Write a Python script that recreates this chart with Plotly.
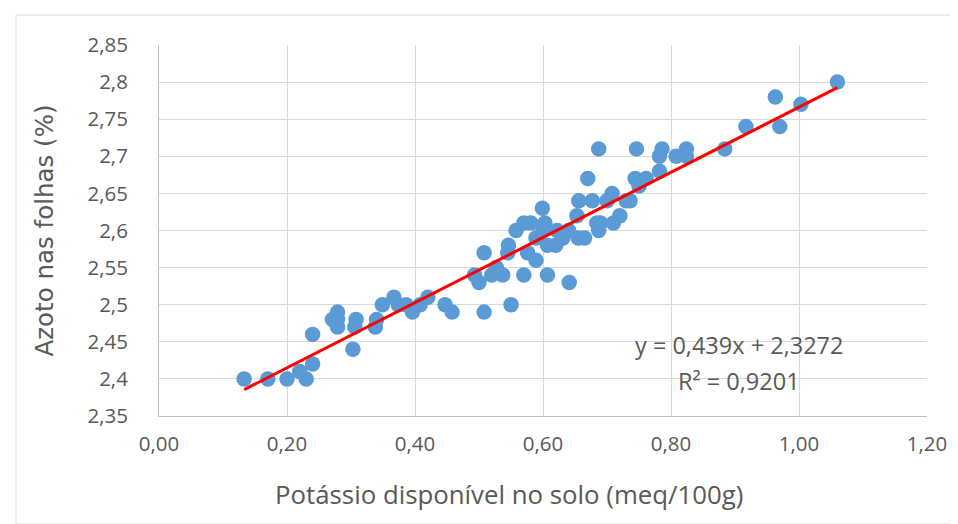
import plotly.graph_objects as go

potassio = [0.133, 0.170, 0.200, 0.220, 0.230, 0.240, 0.240, 0.271, 0.279, 0.279, 0.279,
            0.303, 0.308, 0.306, 0.338, 0.340, 0.349, 0.367, 0.374, 0.386, 0.396, 0.408,
            0.420, 0.447, 0.458, 0.493, 0.500, 0.508, 0.508, 0.520, 0.527, 0.537, 0.545,
            0.546, 0.550, 0.558, 0.570, 0.570, 0.581, 0.576, 0.589, 0.589, 0.599, 0.603,
            0.607, 0.607, 0.620, 0.622, 0.631, 0.641, 0.653, 0.656, 0.655, 0.665, 0.670,
            0.677, 0.684, 0.687, 0.687, 0.708, 0.710, 0.720, 0.736, 0.744, 0.746, 0.750,
            0.761, 0.782, 0.782, 0.786, 0.808, 0.824, 0.824, 0.884, 0.917, 0.963, 0.970,
            1.003, 1.060, 0.600, 0.640, 0.700, 0.730, 0.690]
azoto = [2.40, 2.40, 2.40, 2.41, 2.40, 2.42, 2.46, 2.48, 2.49, 2.48, 2.47,
         2.44, 2.48, 2.47, 2.47, 2.48, 2.50, 2.51, 2.50, 2.50, 2.49, 2.50,
         2.51, 2.50, 2.49, 2.54, 2.53, 2.57, 2.49, 2.54, 2.55, 2.54, 2.57,
         2.58, 2.50, 2.60, 2.54, 2.61, 2.61, 2.57, 2.56, 2.59, 2.63, 2.61,
         2.58, 2.54, 2.58, 2.60, 2.59, 2.53, 2.62, 2.64, 2.59, 2.59, 2.67,
         2.64, 2.61, 2.71, 2.60, 2.65, 2.61, 2.62, 2.64, 2.67, 2.71, 2.66,
         2.67, 2.68, 2.70, 2.71, 2.70, 2.71, 2.70, 2.71, 2.74, 2.78, 2.74,
         2.77, 2.80, 2.60, 2.60, 2.64, 2.64, 2.61]

slope = 0.439
intercept = 2.3272
r2 = 0.9201

x_ticks = [0, 0.2, 0.4, 0.6, 0.8, 1.0, 1.2]
x_ticklabels = ["0,00", "0,20", "0,40", "0,60", "0,80", "1,00", "1,20"]
y_ticks = [2.35, 2.40, 2.45, 2.50, 2.55, 2.60, 2.65, 2.70, 2.75, 2.80, 2.85]
y_ticklabels = ["2,35", "2,4", "2,45", "2,5", "2,55", "2,6", "2,65", "2,7", "2,75", "2,8", "2,85"]

x_title = "Potássio disponível no solo (meq/100g)"
y_title = "Azoto nas folhas (%)"
eq_text = "y = 0,439x + 2,3272"
r2_text = "R² = 0,9201"

xmin, xmax = min(potassio), max(potassio)
trend_x = [xmin, xmax]
trend_y = [slope * v + intercept for v in trend_x]

FONT = "Open Sans, sans-serif"
GREY = "#595959"
tick_font = dict(family=FONT, size=20.5, color=GREY)

W, H = 958, 524
ml, mr, mt, mb = 151, 39, 37, 116
pw, ph = W - ml - mr, H - mt - mb

fig = go.Figure()
fig.add_trace(go.Scatter(x=potassio, y=azoto, mode="markers",
                         marker=dict(color="#5b9bd5", size=15.5, line=dict(width=0)),
                         showlegend=False, hoverinfo="x+y"))
fig.add_trace(go.Scatter(x=trend_x, y=trend_y, mode="lines",
                         line=dict(color="#ff0000", width=3),
                         showlegend=False, hoverinfo="skip"))

fig.add_annotation(x=0.906, y=2.4455, xref="x", yref="y",
                   text=eq_text, showarrow=False,
                   font=dict(family=FONT, size=23.5, color=GREY))
fig.add_annotation(x=0.906, y=2.3975, xref="x", yref="y",
                   text=r2_text, showarrow=False,
                   font=dict(family=FONT, size=23.5, color=GREY))

# x axis title placed like the reference (slightly left of plot centre)
fig.add_annotation(x=(501 - ml) / pw, y=(H - mb - 486) / ph, xref="paper", yref="paper",
                   text=x_title, showarrow=False, xanchor="center", yanchor="middle",
                   font=dict(family=FONT, size=25.8, color=GREY))

fig.add_shape(type="rect", xref="paper", yref="paper",
              x0=(8 - ml) / pw, x1=(950 - ml) / pw,
              y0=(H - mb - 516) / ph, y1=(H - mb - 7) / ph,
              line=dict(color="#d9d9d9", width=1), fillcolor="rgba(0,0,0,0)", layer="below")

fig.update_layout(
    width=W, height=H,
    margin=dict(l=ml, r=mr, t=mt, b=mb),
    paper_bgcolor="white", plot_bgcolor="white",
    separators=",.",
    xaxis=dict(range=[0, 1.2], tickvals=x_ticks, ticktext=x_ticklabels,
               showgrid=True, gridcolor="#d9d9d9", gridwidth=1,
               showline=True, linecolor="#bfbfbf", linewidth=1,
               zeroline=False, ticks="", tickfont=tick_font, ticklabelstandoff=9),
    yaxis=dict(range=[2.35, 2.85], tickvals=y_ticks, ticktext=y_ticklabels,
               showgrid=True, gridcolor="#d9d9d9", gridwidth=1,
               showline=True, linecolor="#bfbfbf", linewidth=1,
               zeroline=False, ticks="", tickfont=tick_font, ticklabelstandoff=26,
               title=dict(text=y_title, standoff=26,
                          font=dict(family="DejaVu Sans, sans-serif", size=24.5, color=GREY))),
)

fig.write_html("out.html")
